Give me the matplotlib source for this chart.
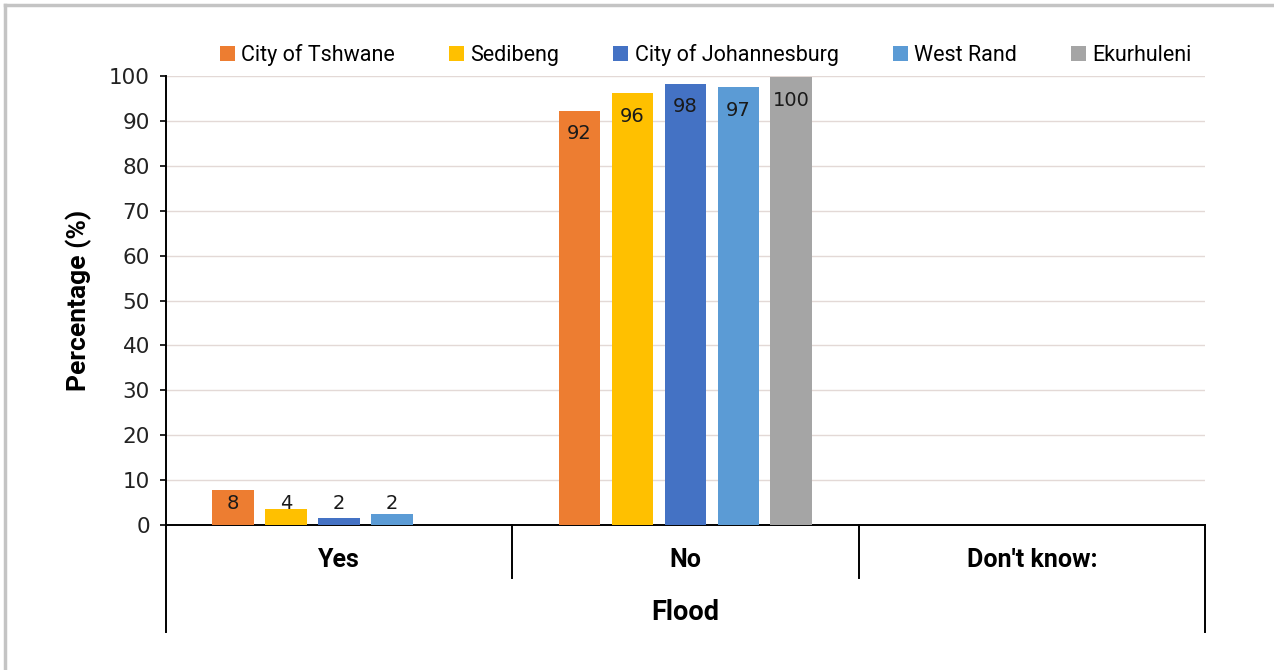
import matplotlib.pyplot as plt
import matplotlib.transforms as mtransforms
import numpy as np

categories = ["Yes", "No", "Don't know:"]
series = ["City of Tshwane", "Sedibeng", "City of Johannesburg", "West Rand", "Ekurhuleni"]
values = {
    "City of Tshwane": [7.8, 92.3, 0],
    "Sedibeng": [3.5, 96.2, 0],
    "City of Johannesburg": [1.5, 98.3, 0],
    "West Rand": [2.5, 97.5, 0],
    "Ekurhuleni": [0, 99.7, 0],
}
labels = {
    "City of Tshwane": ["8", "92", ""],
    "Sedibeng": ["4", "96", ""],
    "City of Johannesburg": ["2", "98", ""],
    "West Rand": ["2", "97", ""],
    "Ekurhuleni": ["", "100", ""],
}
colors = ["#ED7D31", "#FFC000", "#4472C4", "#5B9BD5", "#A5A5A5"]

narrow = ['Roboto', 'DejaVu Sans']
plain = ['DejaVu Sans']

fig = plt.figure(figsize=(12.74, 6.70), dpi=100)
ax = fig.add_axes([0.1303, 0.2164, 0.8155, 0.6701])

x = np.arange(len(categories))
slot = 0.153
width = 0.121
for i, name in enumerate(series):
    pos = x + (i - 2) * slot
    ax.bar(pos, values[name], width=width, color=colors[i], label=name, zorder=3)
    for px, v, lab in zip(pos, values[name], labels[name]):
        if lab:
            ax.annotate(lab, (px, max(v, 10)), xytext=(0, -16.5), textcoords='offset points',
                        ha='center', va='center', fontsize=14, family=plain, color='#1A1A1A')

ax.set_xlim(-0.5, 2.5)
ax.set_ylim(0, 100)
ax.set_yticks(np.arange(0, 101, 10))
ax.tick_params(axis='y', length=4.5, width=1.2, labelsize=15.5, pad=7, colors='black')
for t in ax.get_yticklabels():
    t.set_color('#222222')
ax.set_xticks([])
ax.grid(axis='y', color='#E3D9D6', linewidth=1, zorder=0)
for s in ['top', 'right']:
    ax.spines[s].set_visible(False)
ax.spines['left'].set_linewidth(1.4)
ax.spines['bottom'].set_linewidth(1.4)
ax.spines['left'].set_bounds(0, 100)

# category axis with dividers
trans = mtransforms.blended_transform_factory(ax.transData, ax.transAxes)
for xd, ybot in [(-0.5, -0.238), (0.5, -0.118), (1.5, -0.118), (2.5, -0.238)]:
    ax.plot([xd, xd], [0, ybot], transform=trans, color='black', lw=1.4, clip_on=False)
for xc, cat in zip(x, categories):
    ax.text(xc, -0.078, cat, transform=trans, ha='center', va='center',
            fontsize=18, fontweight='bold', family=narrow)
ax.text(1, -0.194, "Flood", transform=trans, ha='center', va='center',
        fontsize=19.5, fontweight='bold', family=narrow)

ax.set_ylabel("Percentage (%)", fontsize=19, fontweight='bold', family=narrow, labelpad=12)

ax.legend(loc='center', bbox_to_anchor=(0.554, 0.918), bbox_transform=fig.transFigure,
          ncol=5, frameon=False, handlelength=0.7, handleheight=0.7, handletextpad=0.3,
          columnspacing=2.5, prop={'family': narrow, 'size': 15.5})

# frame lines top and left
fig.add_artist(plt.Line2D([0.004, 1], [0.9925, 0.9925], color='#C4C4C4', lw=2.5))
fig.add_artist(plt.Line2D([0.004, 0.004], [0, 0.9925], color='#C4C4C4', lw=2.5))

fig.savefig("out.png", dpi=100, facecolor='white')
